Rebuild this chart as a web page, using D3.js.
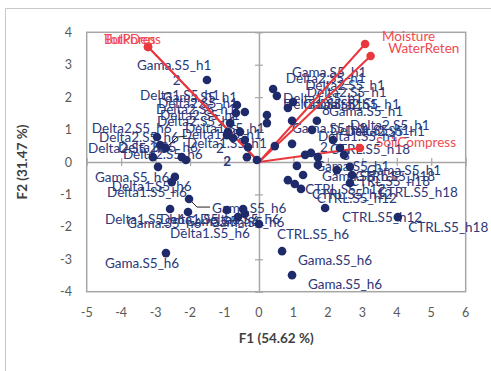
<!DOCTYPE html>
<html>
<head>
<meta charset="utf-8">
<script src="https://cdn.jsdelivr.net/npm/d3@7"></script>
<style>
  body { margin: 0; background: #fff; }
  svg { display: block; }
  text { font-family: Lato, "Open Sans", sans-serif; }
</style>
</head>
<body>
<svg id="chart" width="491" height="371"></svg>
<script>
// Observation scores on the first two factors (F1, F2)
const obsF1 = [-1.51,-0.64,-0.41,-0.67,-0.84,-0.55,-0.90,-0.75,-0.93,-0.41,-0.32,-2.87,-2.96,-2.70,-3.08,-2.24,-2.12,-2.93,-0.06,-0.35,
  0.41,0.52,0.99,0.84,0.23,0.23,0.96,1.68,1.54,0.96,0.46,1.34,1.51,1.71,2.15,2.35,2.47,1.10,
  1.71,1.28,0.84,1.04,1.22,2.26,2.64,2.70,2.64,1.92,4.03,0.67,0.96,
  -2.44,-2.53,-2.03,-2.58,-2.06,-0.93,-0.46,-0.41,-0.61,0.00,-2.70];
const obsF2 = [2.53,1.76,1.54,1.51,1.20,0.93,0.93,0.74,0.83,0.68,0.46,0.52,0.77,0.43,0.15,0.15,0.06,-0.15,0.06,0.15,
  2.25,2.04,1.85,1.67,1.45,1.20,1.27,1.27,0.99,0.56,0.49,0.22,0.28,0.15,0.68,0.43,0.22,-0.12,
  -0.09,-0.40,-0.56,-0.68,-0.83,-0.25,-0.15,-0.40,-0.65,-1.42,-1.70,-2.75,-3.49,
  -0.46,-0.62,-1.14,-1.45,-1.54,-1.48,-1.45,-1.60,-1.70,-1.91,-2.81];

// Observation labels and their anchor positions (factor units)
const labelText = ["Gama.S5_h1","2","Delta1.S5_h1","Gama.S5_h1","Delta2.S5_h1","Delta2.S5_h1","Delta2.S5_h1","Delta2.S5_h1","Delta1.S5_h1",
  "Delta2.S5_h6","Delta2.S5_h6","Delta2.S5_h6","Delta2.S5_h6","Delta2.S5_h6","Delta1.S5_h1","Delta1.S5_h1","2",
  "Gama.S5_h1","Delta2.S5_h1","Delta2.S5_h1","Delta2.S5_h1","Delta1.S5_h1","Delta1.S5_h1","Gama.S5_h1","Delta2.S5_h1","8","Gama.S5_h1",
  "Gama.S5_h1","Delta2.S5_h1","Delta1.S5_h1","Delta1.S5_h1","Delta2.S5_h1","CTRL.S5_h18","8","2",
  "Gama.S5_h1","Gama.S5_h1","Gama.S5_h1","CTRL.S5_h18","CTRL.S5_h18","CTRL.S5_h12","CTRL.S5_h12","CTRL.S5_h12","CTRL.S5_h18",
  "CTRL.S5_h12","CTRL.S5_h18","CTRL.S5_h6","Gama.S5_h6","Gama.S5_h6",
  "Gama.S5_h6","Delta1.S5_h6","Delta1.S5_h6","Gama.S5_h6","Delta1.S5_h6","Gama.S5_h6","Delta1.S5_h6","Gama.S5_h6","Delta1.S5_h6",
  "Gama.S5_h6","Delta1.S5_h6","Gama.S5_h6"];
const labelF1 = [-3.54,-2.50,-3.45,-2.79,-2.93,-2.99,-2.87,-2.96,-2.15,
  -4.85,-4.64,-4.96,-4.09,-3.95,-2.09,-2.24,-1.25,
  0.96,0.78,1.34,1.39,0.70,0.70,1.28,1.77,1.83,2.03,
  0.96,2.64,2.06,1.71,2.50,2.06,2.41,1.77,
  1.63,3.13,1.83,2.79,2.64,1.34,1.54,1.68,3.45,
  2.41,4.33,0.52,1.13,1.42,
  -4.76,-4.27,-4.41,-1.36,-4.47,-3.83,-2.87,-2.15,-1.71,
  -1.42,-2.58,-4.47];
const labelF2 = [2.99,2.53,2.07,2.01,1.82,1.64,1.45,1.27,1.05,
  1.05,0.77,0.43,0.46,0.25,0.59,0.86,0.43,
  2.78,2.59,2.38,2.16,1.98,1.79,1.79,1.79,1.60,1.57,
  1.05,1.14,0.99,0.80,0.96,0.40,0.22,0.46,
  -0.12,-0.25,-0.43,-0.43,-0.59,-0.83,-0.99,-1.11,-0.93,
  -1.70,-2.01,-2.22,-3.02,-3.77,
  -0.46,-0.74,-0.93,-1.42,-1.76,-1.88,-1.76,-1.82,-1.76,
  -1.85,-2.19,-3.12];

// Group centroid markers
const centroidText = ["2"];
const centroidF1 = [-1.04];
const centroidF2 = [0.03];

// Leader lines joining displaced labels to their points (factor units)
const leaders = [
  [[-2.03,-1.14],[-1.80,-1.39],[-1.42,-1.39]],
  [[-2.70,0.43],[-2.38,0.77],[-2.09,0.80]]
];

// Variable loadings (scaled to the observation space)
const varNames = ["TotPores","BulkDens","Moisture","WaterReten","SoilCompress"];
const varF1 = [-3.22,-3.22,3.08,3.24,2.93];
const varF2 = [3.55,3.55,3.64,3.27,0.43];
const varLabelF1 = [-4.50,-4.50,3.57,3.75,3.40];
const varLabelF2 = [3.80,3.80,3.90,3.52,0.62];

// Axis ticks
const xTicks = [-5,-4,-3,-2,-1,0,1,2,3,4,5,6];
const yTicks = [-4,-3,-2,-1,0,1,2,3,4];

const svg = d3.select("#chart");
const W = 491, H = 371;
const plot = { left: 86.7, right: 465.7, top: 32.3, bottom: 291.7 };

const x = d3.scaleLinear().domain([-5, 6]).range([plot.left, plot.right]);
const y = d3.scaleLinear().domain([-4, 4]).range([plot.bottom, plot.top]);

const navy = "#1f2a6b";
const labelNavy = "#2c3878";
const red = "#e8383d";
const grey = "#a6a6a6";

// Outer frame (left and top edges)
svg.append("path")
  .attr("d", `M5.5,${H} V8.5 H${W}`)
  .attr("fill", "none").attr("stroke", "#c8c8c8").attr("stroke-width", 1);

// Plot border
svg.append("rect")
  .attr("x", plot.left).attr("y", plot.top)
  .attr("width", plot.right - plot.left).attr("height", plot.bottom - plot.top)
  .attr("fill", "none").attr("stroke", grey).attr("stroke-width", 1.5);

// Zero axes with crossing ticks
const xAxis = d3.axisBottom(x).tickValues(xTicks).tickSize(0).tickFormat("");
const yAxis = d3.axisLeft(y).tickValues(yTicks).tickSize(0).tickFormat("");

const gx = svg.append("g").attr("transform", `translate(0,${y(0)})`).call(xAxis);
gx.select(".domain").attr("stroke", grey).attr("stroke-width", 1.5);
gx.selectAll(".tick").append("line").attr("y1", -4).attr("y2", 4)
  .attr("stroke", grey).attr("stroke-width", 1.2);

const gy = svg.append("g").attr("transform", `translate(${x(0)},0)`).call(yAxis);
gy.select(".domain").attr("stroke", grey).attr("stroke-width", 1.5);
gy.selectAll(".tick").append("line").attr("x1", -4).attr("x2", 4)
  .attr("stroke", grey).attr("stroke-width", 1.2);

// Tick labels along the plot frame
svg.append("g").selectAll("text").data(xTicks).join("text")
  .attr("x", d => x(d)).attr("y", 312)
  .attr("text-anchor", "middle").attr("dominant-baseline", "central")
  .attr("font-size", 12.5).attr("fill", "#595959")
  .text(d => d);

svg.append("g").selectAll("text").data(yTicks).join("text")
  .attr("x", 72).attr("y", d => y(d))
  .attr("text-anchor", "end").attr("dominant-baseline", "central")
  .attr("font-size", 12.5).attr("fill", "#595959")
  .text(d => d);

// Axis titles
svg.append("text")
  .attr("x", (plot.left + plot.right) / 2).attr("y", 338)
  .attr("text-anchor", "middle").attr("dominant-baseline", "central")
  .attr("font-size", 13.5).attr("font-weight", "bold").attr("fill", "#404040")
  .text("F1 (54.62 %)");

svg.append("text")
  .attr("transform", `translate(22,${y(0)}) rotate(-90)`)
  .attr("text-anchor", "middle").attr("dominant-baseline", "central")
  .attr("font-size", 13.5).attr("font-weight", "bold").attr("fill", "#404040")
  .text("F2 (31.47 %)");

// Observation labels
svg.append("g").selectAll("text").data(labelText).join("text")
  .attr("x", (d, i) => x(labelF1[i])).attr("y", (d, i) => y(labelF2[i]))
  .attr("dominant-baseline", "central")
  .attr("font-size", 13.5).attr("fill", labelNavy)
  .text(d => d);

svg.append("g").selectAll("text").data(centroidText).join("text")
  .attr("x", (d, i) => x(centroidF1[i])).attr("y", (d, i) => y(centroidF2[i]))
  .attr("dominant-baseline", "central")
  .attr("font-size", 13.5).attr("font-weight", "bold").attr("fill", labelNavy)
  .text(d => d);

// Leader lines
const line = d3.line().x(d => x(d[0])).y(d => y(d[1]));
svg.append("g").selectAll("path").data(leaders).join("path")
  .attr("d", line).attr("fill", "none").attr("stroke", "#222").attr("stroke-width", 1);

// Variable vectors
const vecs = svg.append("g");
vecs.selectAll("line").data(varNames).join("line")
  .attr("x1", x(0)).attr("y1", y(0))
  .attr("x2", (d, i) => x(varF1[i])).attr("y2", (d, i) => y(varF2[i]))
  .attr("stroke", red).attr("stroke-width", 2);

// Observation points
svg.append("g").selectAll("circle").data(obsF1).join("circle")
  .attr("cx", d => x(d)).attr("cy", (d, i) => y(obsF2[i]))
  .attr("r", 4.3).attr("fill", navy);

// Vector end markers and names
vecs.selectAll("circle").data(varNames).join("circle")
  .attr("cx", (d, i) => x(varF1[i])).attr("cy", (d, i) => y(varF2[i]))
  .attr("r", 4.3).attr("fill", red);

svg.append("g").selectAll("text").data(varNames).join("text")
  .attr("x", (d, i) => x(varLabelF1[i])).attr("y", (d, i) => y(varLabelF2[i]))
  .attr("dominant-baseline", "central")
  .attr("font-size", 13.5).attr("fill", "#ef4a4f")
  .text(d => d);
</script>
</body>
</html>
